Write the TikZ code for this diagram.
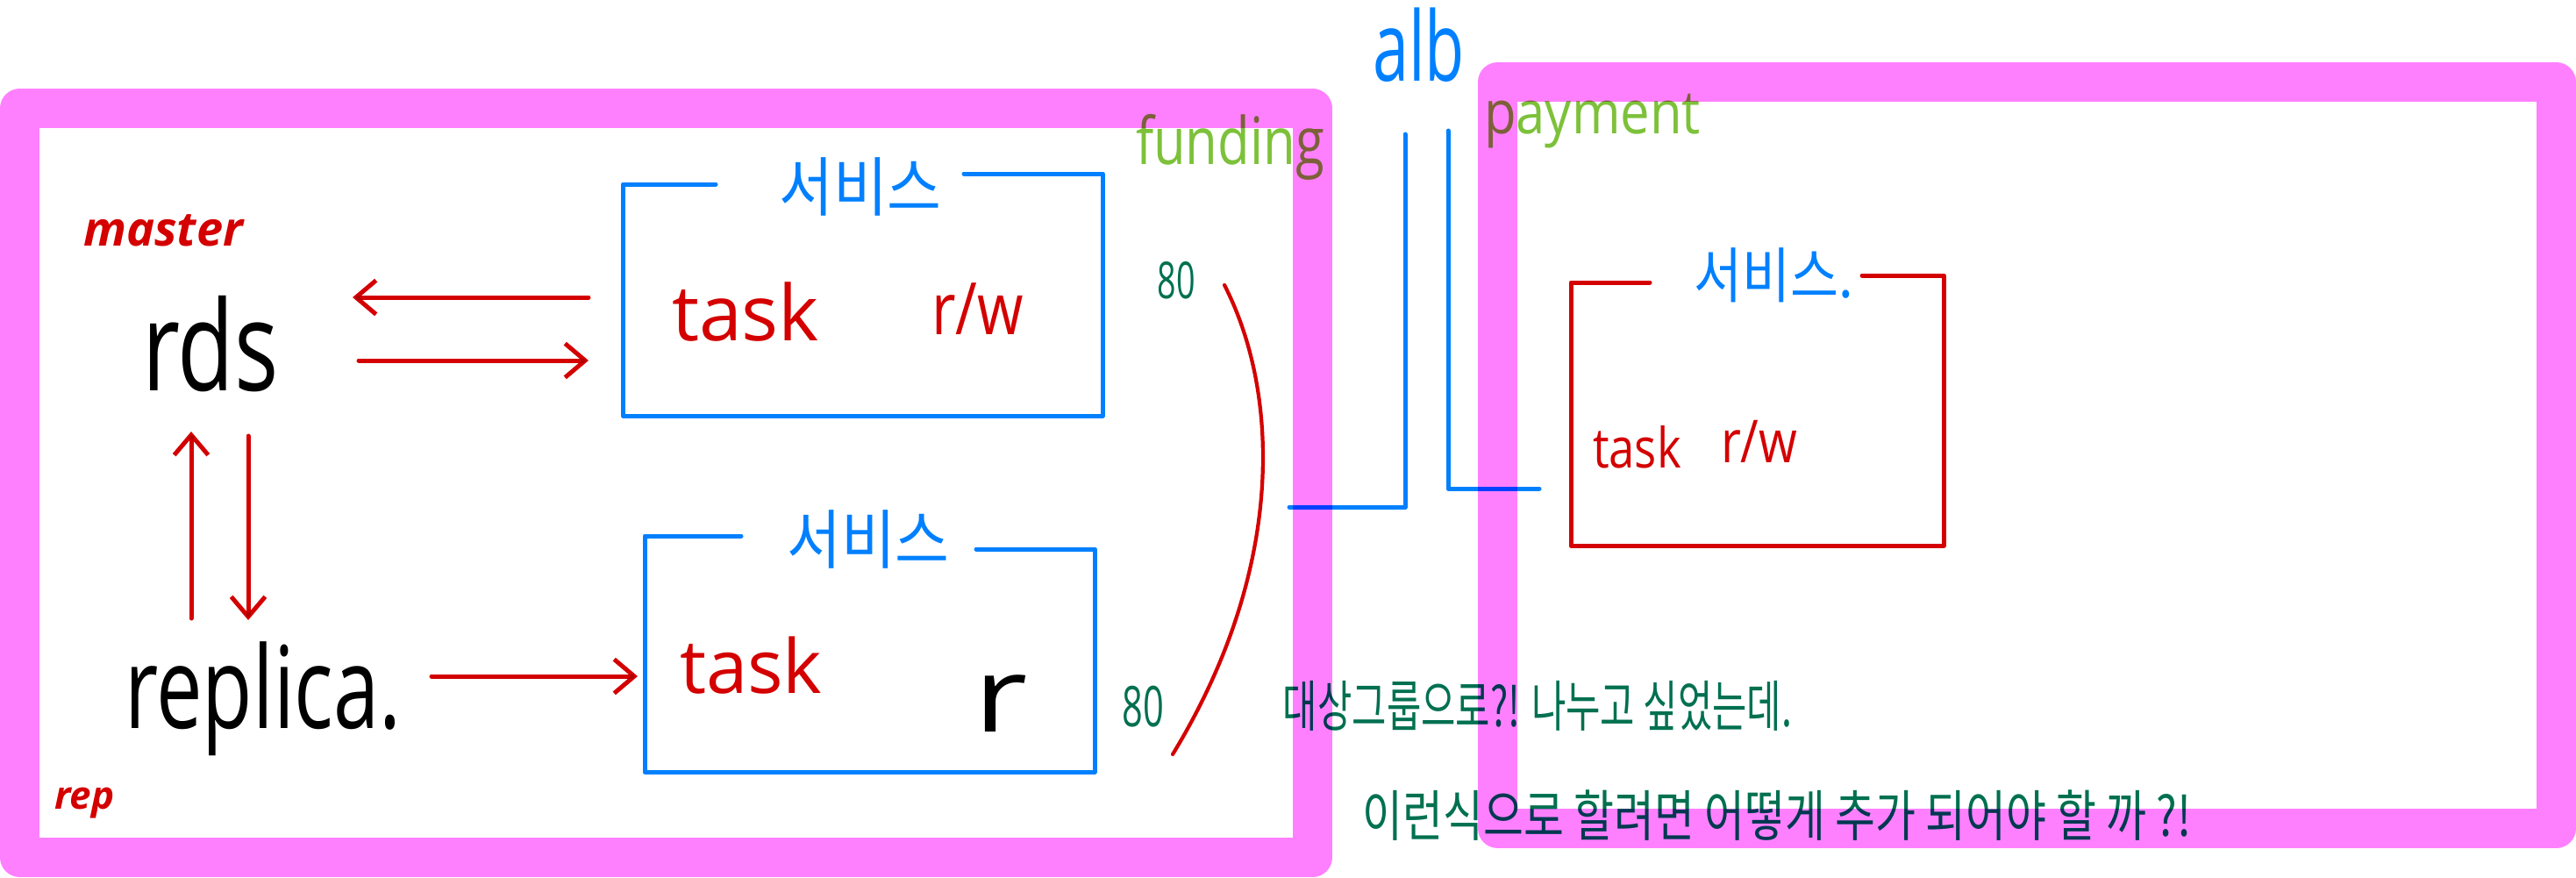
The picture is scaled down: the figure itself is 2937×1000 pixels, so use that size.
\documentclass[tikz,border=0pt]{standalone}
\usepackage{fontspec}
\setmainfont{Open Sans}
\newfontfamily\kr{Noto Sans CJK KR}
\usetikzlibrary{arrows.meta}
\definecolor{pinkC}{HTML}{FF80FF}
\definecolor{blueC}{HTML}{0080FF}
\definecolor{redC}{HTML}{D40000}
\definecolor{dgreenC}{HTML}{007050}
\definecolor{lgreenC}{HTML}{7DC13A}
\tikzset{
  frame/.style={draw=pinkC, line width=12.8pt, line join=round},
  bluebox/.style={draw=blueC, line width=1.42pt, line join=round, line cap=round},
  redbox/.style={draw=redC, line width=1.42pt, line join=round, line cap=round},
  redline/.style={draw=redC, line width=1.42pt, line cap=round},
  arr/.style={redline, -{Straight Barb[length=6.5pt,width=11pt,line width=1.42pt]}},
  txt/.style={inner sep=0pt, outer sep=0pt},
}
\newcommand{\fs}[1]{\fontsize{#1}{#1}\selectfont}
\begin{document}
\begin{tikzpicture}[x=0.01cm, y=-0.01cm]
\useasboundingbox (0,0) rectangle (2937,1000);
% pink group frames
\draw[frame] (22.5,123.5) rectangle (1496.5,977.5);
\draw[frame] (1707.5,93.5) rectangle (2914.5,944.5);
\begin{scope}[blend mode=multiply]
% left side texts
\node[txt, anchor=base west, text=redC, font=\fs{15.4pt}\bfseries\itshape] (master) at (95,280) {master};
\node[txt, anchor=base west, font=\fs{40.5pt}] (rds) at (162,445) {\scalebox{0.74}[1]{rds}};
\node[txt, anchor=base west, font=\fs{37pt}] (replica) at (142,830) {\scalebox{0.72}[1]{replica.}};
\node[txt, anchor=base west, text=redC, font=\fs{12.5pt}\bfseries\itshape] (rep) at (62,922) {rep};
% arrows coordinates
\coordinate (a1s) at (671,339); \coordinate (a1e) at (402,339);
\coordinate (a2s) at (409,411); \coordinate (a2e) at (671,411);
\coordinate (a3s) at (218,705); \coordinate (a3e) at (218,492);
\coordinate (a4s) at (283,497); \coordinate (a4e) at (283,707);
\coordinate (a5s) at (492,771); \coordinate (a5e) at (727,771);
\draw[arr] (a1s) -- (a1e);
\draw[arr] (a2s) -- (a2e);
\draw[arr] (a3s) -- (a3e);
\draw[arr] (a4s) -- (a4e);
\draw[arr] (a5s) -- (a5e);
% top service box
\draw[bluebox] (816,210) -- (710,210) -- (710,474) -- (1257,474) -- (1257,198) -- (1099,198);
\node[txt, text=blueC, font=\kr\fs{18.2pt}] (svc1) at (981,213) {\scalebox{1.05}[1.15]{서비스}};
\node[txt, anchor=base west, text=redC, font=\fs{25pt}] (task1) at (766,388) {task};
\node[txt, anchor=base west, text=redC, font=\fs{21.3pt}] (rw1) at (1062,381) {\scalebox{0.9}[1.1]{r/w}};
% bottom service box
\draw[bluebox] (845,611) -- (735,611) -- (735,880) -- (1248,880) -- (1248,626) -- (1113,626);
\node[txt, text=blueC, font=\kr\fs{18.2pt}] (svc2) at (990,615) {\scalebox{1.05}[1.15]{서비스}};
\node[txt, anchor=base west, text=redC, font=\fs{24.2pt}] (task2) at (775,790) {task};
\node[txt, anchor=base, font=\fs{35.6pt}] (r2) at (1141,834) {\scalebox{1.2}[0.95]{r}};
% 80 labels and arc
\node[txt, text=dgreenC, font=\fs{16.5pt}] (p80a) at (1341,320) {\scalebox{0.65}[1]{80}};
\node[txt, text=dgreenC, font=\fs{18.2pt}] (p80b) at (1303,806) {\scalebox{0.65}[1]{80}};
\coordinate (arcA) at (1396,325); \coordinate (arcB) at (1337,860);
\draw[redline, line width=1.2pt] (arcA) .. controls (1460,450) and (1465,650) .. (arcB);
% alb
\node[txt, anchor=base west, text=blueC, font=\fs{31.3pt}] (alb) at (1565,92) {\scalebox{0.67}[1]{alb}};
\coordinate (albL) at (1602,153); \coordinate (albR) at (1651,149);
\coordinate (fundEnd) at (1470,578); \coordinate (payEnd) at (1755,557);
\draw[bluebox] (albL) -- (albL |- fundEnd) -- (fundEnd);
\draw[bluebox] (albR) -- (albR |- payEnd) -- (payEnd);
\node[txt, anchor=base west, text=lgreenC, font=\fs{17pt}] (funding) at (1295,187) {\scalebox{1}[1.25]{funding}};
\node[txt, anchor=base west, text=lgreenC, font=\fs{17pt}] (payment) at (1692,152) {\scalebox{1}[1.15]{payment}};
% payment service box
\draw[redbox] (1881,322) -- (1791,322) -- (1791,622) -- (2216,622) -- (2216,314) -- (2123,314);
\node[txt, text=blueC, font=\kr\fs{17pt}] (svc3) at (2022,314) {\scalebox{1.0}[1.15]{서비스.}};
\node[txt, anchor=base west, text=redC, font=\fs{15pt}] (task3) at (1816,533) {\scalebox{1}[1.2]{task}};
\node[txt, anchor=base west, text=redC, font=\fs{16pt}] (rw3) at (1962,527) {\scalebox{1}[1.2]{r/w}};
% notes
\node[txt, text=dgreenC, font=\kr\fs{15.6pt}] (note1) at (1753,805) {\scalebox{0.78}[1.15]{대상그룹으로?! 나누고 싶었는데.}};
\node[txt, text=dgreenC, font=\kr\fs{15.6pt}] (note2) at (2026,930) {\scalebox{0.91}[1.15]{이런식으로 할려면 어떻게 추가 되어야 할 까 ?!}};
\end{scope}
\end{tikzpicture}
\end{document}
